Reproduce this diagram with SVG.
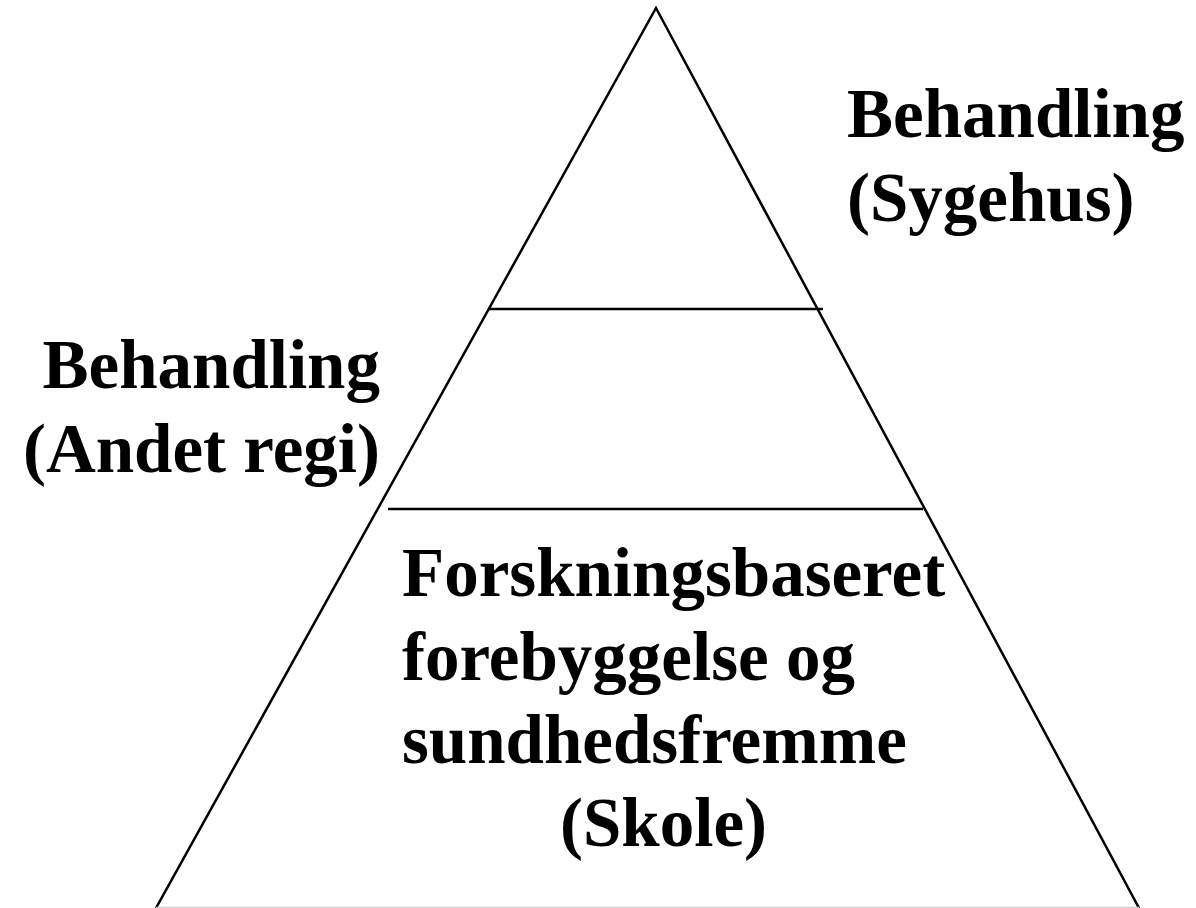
<svg xmlns="http://www.w3.org/2000/svg" width="1196" height="908" viewBox="0 0 1196 908">
<style>
.t{font-family:"Liberation Serif","Times New Roman",serif;font-weight:bold;font-size:69px;fill:#000}
.ln{stroke:#000;stroke-width:2.5;fill:none}
</style>
<rect width="1196" height="908" fill="#fff"/>
<g id="connectors">
<polyline class="ln" points="156,908 656,8 1139,908"/>
<line x1="156" y1="907.5" x2="1139" y2="907.5" stroke="#cfcfcf" stroke-width="1.5"/>
<line class="ln" x1="489" y1="309" x2="823" y2="309"/>
<line class="ln" x1="388" y1="509" x2="923" y2="509"/>
</g>
<g id="top">
<text class="t" x="847" y="137">Behandling</text>
<text class="t" x="847" y="221">(Sygehus)</text>
</g>
<g id="middle">
<text class="t" x="380" y="388" text-anchor="end">Behandling</text>
<text class="t" x="380" y="472" text-anchor="end">(Andet regi)</text>
</g>
<g id="bottom">
<text class="t" x="402" y="596">Forskningsbaseret</text>
<text class="t" x="402" y="680">forebyggelse og</text>
<text class="t" x="402" y="763">sundhedsfremme</text>
<text class="t" x="560" y="846">(Skole)</text>
</g>
</svg>
